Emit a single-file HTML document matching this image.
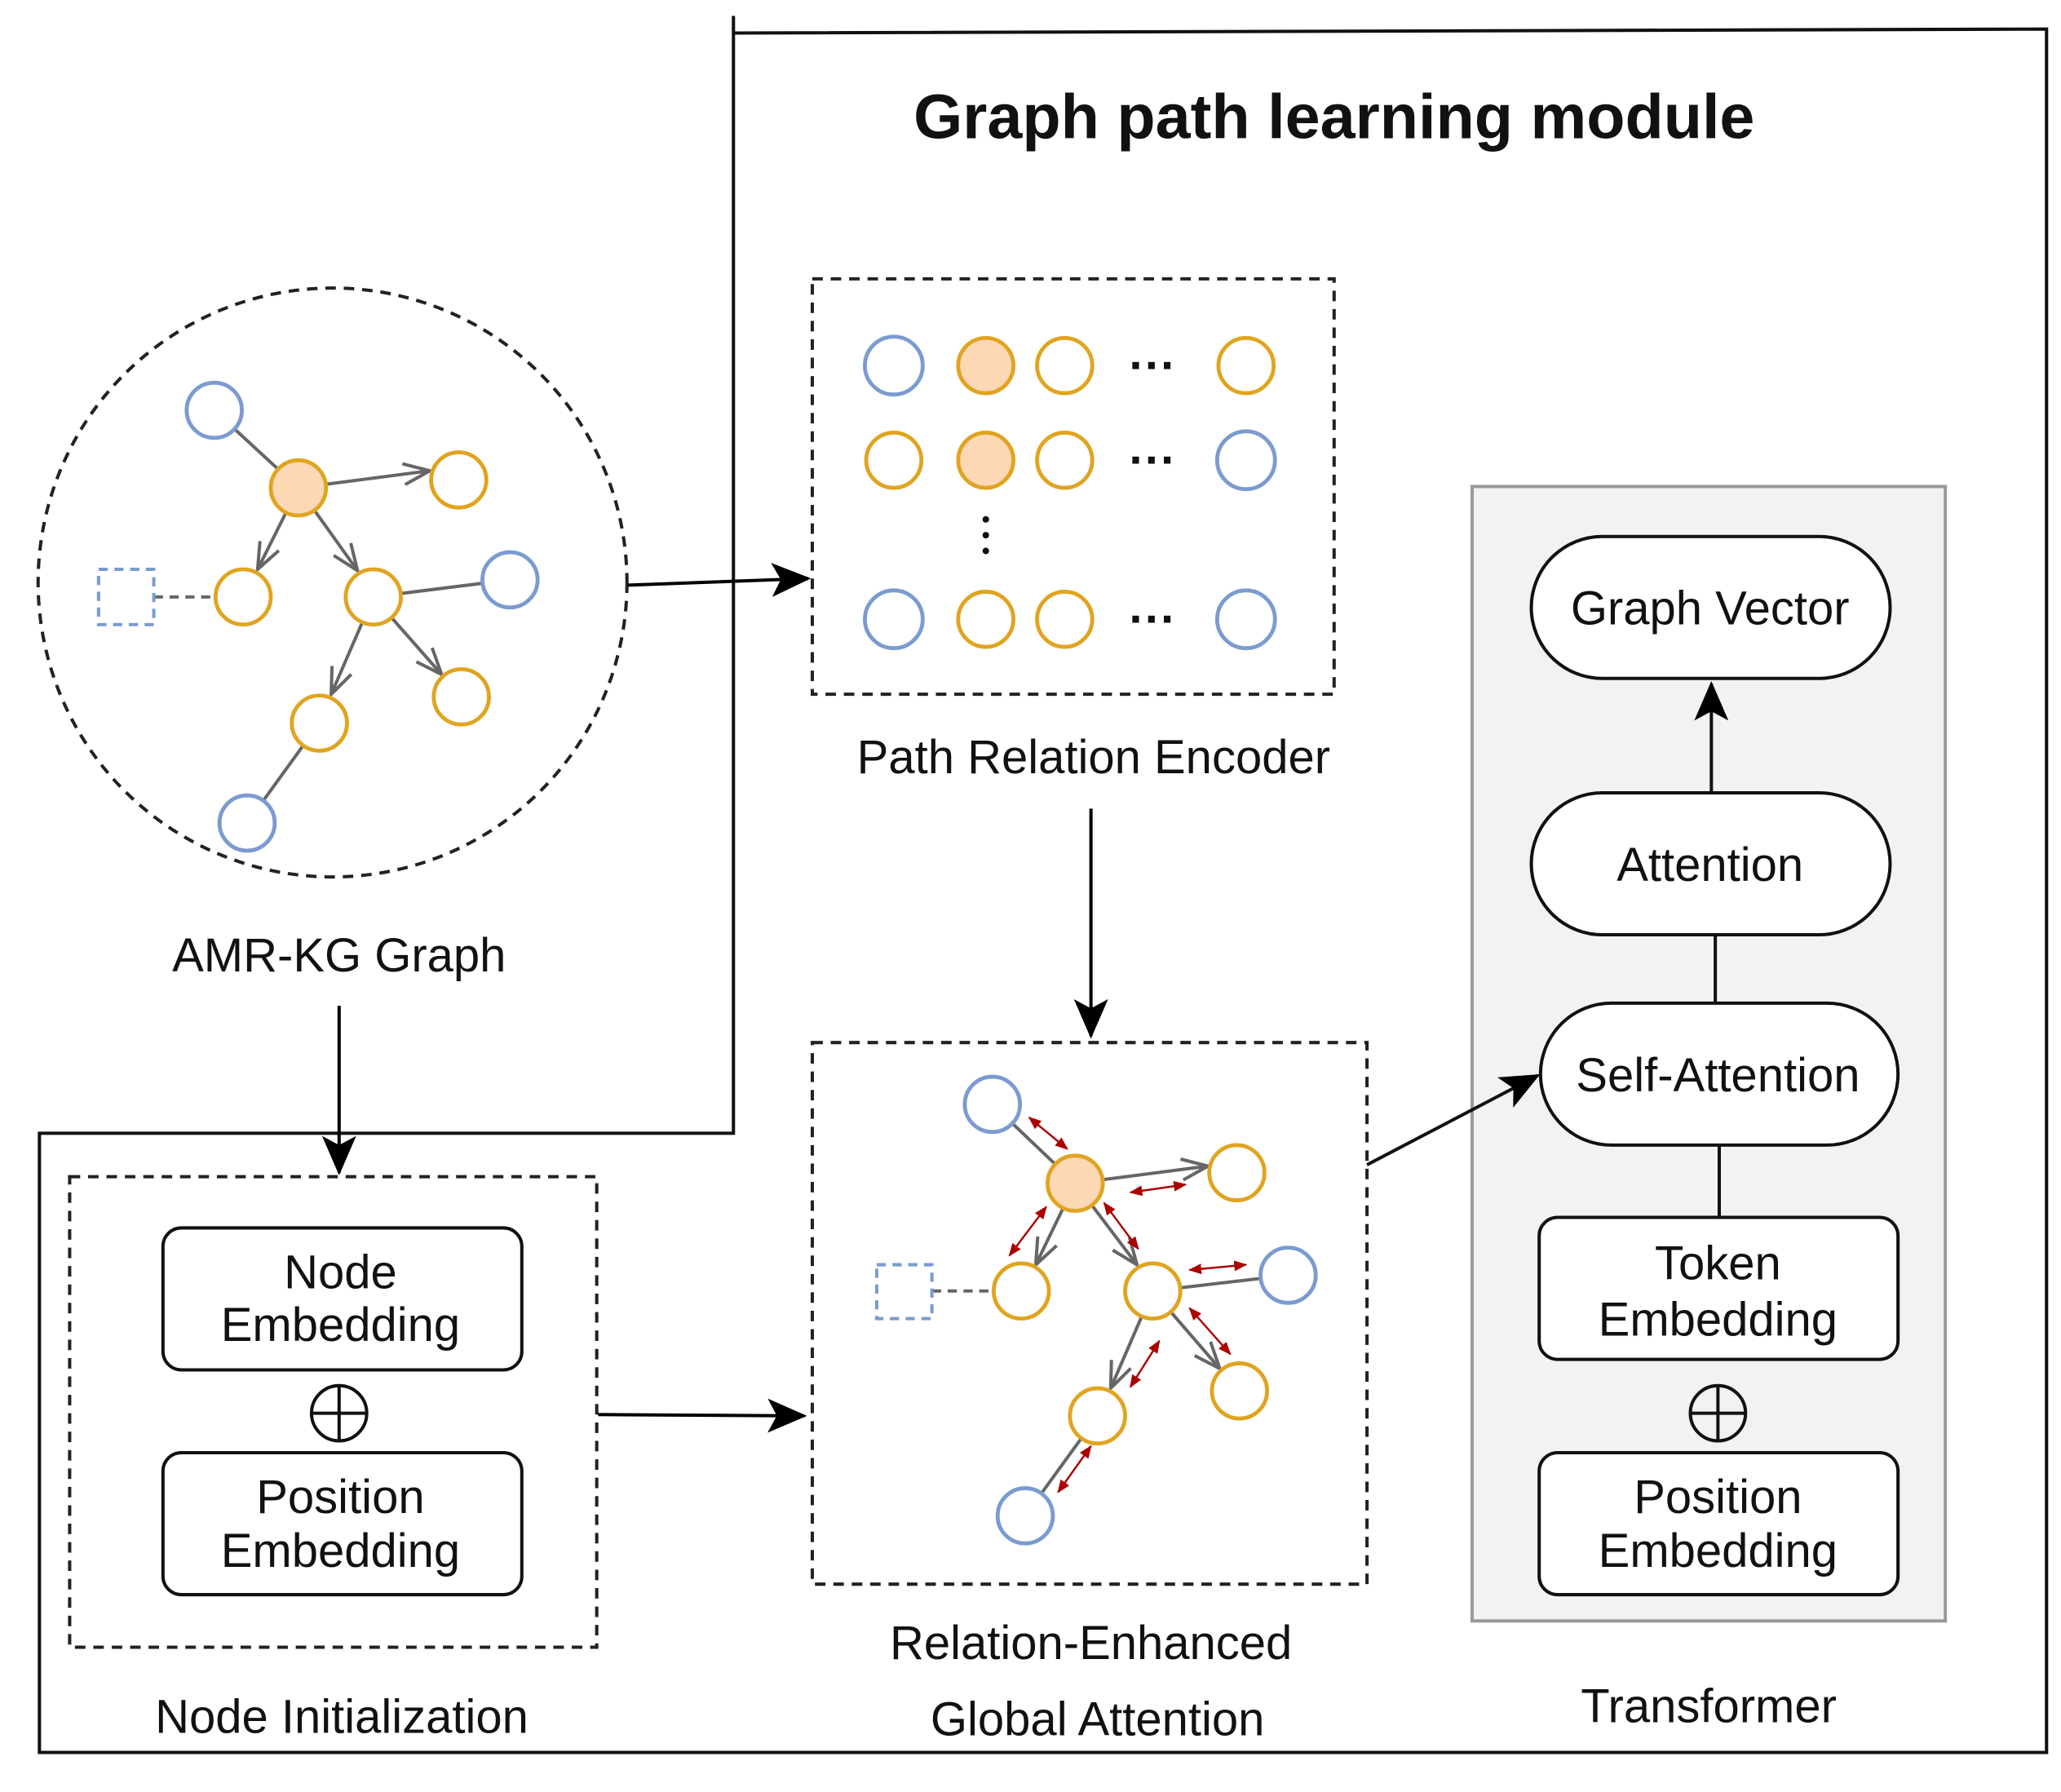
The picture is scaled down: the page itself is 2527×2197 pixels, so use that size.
<!DOCTYPE html>
<html><head><meta charset="utf-8"><style>
html,body{margin:0;padding:0;background:#fff;}
svg{display:block;}
text{font-family:"Liberation Sans",Arial,sans-serif;fill:#111;}
</style></head><body>
<svg width="2527" height="2197" viewBox="0 0 1568 1363" xmlns="http://www.w3.org/2000/svg">
<defs>
<marker id="big" markerWidth="30" markerHeight="26" refX="28" refY="13" orient="auto" markerUnits="userSpaceOnUse"><path d="M0,0 L30,13 L0,26 L7,13 z" fill="#000"/></marker>
<marker id="ga" markerWidth="24" markerHeight="20" refX="22" refY="10" orient="auto" markerUnits="userSpaceOnUse"><path d="M2,2 L22,10 L2,18" fill="none" stroke="#666" stroke-width="2.5"/></marker>
<marker id="ra" markerWidth="10" markerHeight="8" refX="9" refY="4" orient="auto-start-reverse" markerUnits="userSpaceOnUse"><path d="M0,0 L10,4 L0,8 z" fill="#a00"/></marker>
</defs>
<g stroke="#111" stroke-width="2.5" fill="none">
<polyline points="558,12 558,862 30,862 30,1333 1557,1333 1557,22 558,25"/>
</g>
<text x="1015" y="105" font-size="48" font-weight="bold" text-anchor="middle">Graph path learning module</text>

<circle cx="253" cy="443" r="224" fill="none" stroke="#222" stroke-width="2.5" stroke-dasharray="8,6"/>
<g stroke="#666" stroke-width="2.5">
<line x1="163" y1="312" x2="227" y2="371"/>
<line x1="227" y1="371" x2="327" y2="358" marker-end="url(#ga)"/>
<line x1="227" y1="371" x2="196" y2="433" marker-end="url(#ga)"/>
<line x1="227" y1="371" x2="272" y2="434" marker-end="url(#ga)"/>
<line x1="284" y1="454" x2="388" y2="441"/>
<line x1="284" y1="454" x2="336" y2="513" marker-end="url(#ga)"/>
<line x1="284" y1="454" x2="252" y2="528" marker-end="url(#ga)"/>
<line x1="243" y1="550" x2="188" y2="626"/>
<line x1="117" y1="454" x2="163" y2="454" stroke-dasharray="7,5"/>
</g>
<rect x="75" y="433" width="42" height="42" fill="none" stroke="#7b9bd0" stroke-width="2.5" stroke-dasharray="7,5"/>
<g stroke-width="3">
<circle cx="163" cy="312" r="21" fill="#fff" stroke="#7b9bd0"/>
<circle cx="227" cy="371" r="21" fill="#fdd8b5" stroke="#e0a420"/>
<circle cx="349" cy="365" r="21" fill="#fff" stroke="#e0a420"/>
<circle cx="185" cy="454" r="21" fill="#fff" stroke="#e0a420"/>
<circle cx="284" cy="454" r="21" fill="#fff" stroke="#e0a420"/>
<circle cx="388" cy="441" r="21" fill="#fff" stroke="#7b9bd0"/>
<circle cx="351" cy="530" r="21" fill="#fff" stroke="#e0a420"/>
<circle cx="243" cy="550" r="21" fill="#fff" stroke="#e0a420"/>
<circle cx="188" cy="626" r="21" fill="#fff" stroke="#7b9bd0"/>
</g>
<text x="258" y="739" font-size="36" text-anchor="middle">AMR-KG Graph</text>

<g stroke="#000" stroke-width="2.5" fill="none">
<line x1="478" y1="445" x2="615" y2="440" marker-end="url(#big)"/>
<line x1="830" y1="615" x2="830" y2="788" marker-end="url(#big)"/>
<line x1="258" y1="765" x2="258" y2="892" marker-end="url(#big)"/>
<line x1="455" y1="1076" x2="612" y2="1077" marker-end="url(#big)"/>
</g>

<rect x="618" y="212" width="397" height="316" fill="none" stroke="#222" stroke-width="2.5" stroke-dasharray="8,6"/>
<g stroke-width="3" fill="#fff">
<circle cx="680" cy="278" r="22" stroke="#7b9bd0"/>
<circle cx="750" cy="278" r="21" fill="#fdd8b5" stroke="#e0a420"/>
<circle cx="810" cy="278" r="21" stroke="#e0a420"/>
<circle cx="948" cy="278" r="21" stroke="#e0a420"/>
<circle cx="680" cy="350" r="21" stroke="#e0a420"/>
<circle cx="750" cy="350" r="21" fill="#fdd8b5" stroke="#e0a420"/>
<circle cx="810" cy="350" r="21" stroke="#e0a420"/>
<circle cx="948" cy="350" r="22" stroke="#7b9bd0"/>
<circle cx="680" cy="471" r="22" stroke="#7b9bd0"/>
<circle cx="750" cy="471" r="21" stroke="#e0a420"/>
<circle cx="810" cy="471" r="21" stroke="#e0a420"/>
<circle cx="948" cy="471" r="22" stroke="#7b9bd0"/>
</g>
<g fill="#111">
<text x="877" y="290" font-size="36" font-weight="bold" text-anchor="middle">···</text>
<text x="877" y="362" font-size="36" font-weight="bold" text-anchor="middle">···</text>
<text x="877" y="483" font-size="36" font-weight="bold" text-anchor="middle">···</text>
<circle cx="750" cy="395" r="2.5"/><circle cx="750" cy="407" r="2.5"/><circle cx="750" cy="419" r="2.5"/>
</g>
<text x="832" y="588" font-size="36" text-anchor="middle">Path Relation Encoder</text>

<rect x="618" y="793" width="422" height="412" fill="none" stroke="#222" stroke-width="2.5" stroke-dasharray="8,6"/>
<g stroke="#666" stroke-width="2.5">
<line x1="755" y1="840" x2="818" y2="900"/>
<line x1="818" y1="900" x2="919" y2="887" marker-end="url(#ga)"/>
<line x1="818" y1="900" x2="788" y2="962" marker-end="url(#ga)"/>
<line x1="818" y1="900" x2="865" y2="962" marker-end="url(#ga)"/>
<line x1="877" y1="982" x2="980" y2="970"/>
<line x1="877" y1="982" x2="928" y2="1041" marker-end="url(#ga)"/>
<line x1="877" y1="982" x2="845" y2="1056" marker-end="url(#ga)"/>
<line x1="835" y1="1077" x2="780" y2="1153"/>
<line x1="709" y1="982" x2="755" y2="982" stroke-dasharray="7,5"/>
</g>
<g stroke="#a00" stroke-width="1.5" marker-start="url(#ra)" marker-end="url(#ra)">
<line x1="783" y1="850" x2="812" y2="874"/>
<line x1="860" y1="907" x2="902" y2="901"/>
<line x1="768" y1="955" x2="796" y2="918"/>
<line x1="840" y1="915" x2="866" y2="950"/>
<line x1="905" y1="966" x2="948" y2="962"/>
<line x1="905" y1="995" x2="936" y2="1030"/>
<line x1="860" y1="1055" x2="882" y2="1020"/>
<line x1="805" y1="1135" x2="830" y2="1100"/>
</g>
<rect x="667" y="962" width="42" height="41" fill="none" stroke="#7b9bd0" stroke-width="2.5" stroke-dasharray="7,5"/>
<g stroke-width="3">
<circle cx="755" cy="840" r="21" fill="#fff" stroke="#7b9bd0"/>
<circle cx="818" cy="900" r="21" fill="#fdd8b5" stroke="#e0a420"/>
<circle cx="941" cy="892" r="21" fill="#fff" stroke="#e0a420"/>
<circle cx="777" cy="982" r="21" fill="#fff" stroke="#e0a420"/>
<circle cx="877" cy="982" r="21" fill="#fff" stroke="#e0a420"/>
<circle cx="980" cy="970" r="21" fill="#fff" stroke="#7b9bd0"/>
<circle cx="943" cy="1058" r="21" fill="#fff" stroke="#e0a420"/>
<circle cx="835" cy="1077" r="21" fill="#fff" stroke="#e0a420"/>
<circle cx="780" cy="1153" r="21" fill="#fff" stroke="#7b9bd0"/>
</g>
<text x="830" y="1262" font-size="36" text-anchor="middle">Relation-Enhanced</text>
<text x="835" y="1320" font-size="36" text-anchor="middle">Global Attention</text>

<rect x="53" y="895" width="401" height="358" fill="none" stroke="#222" stroke-width="2.5" stroke-dasharray="8,6"/>
<rect x="124" y="934" width="273" height="108" rx="14" fill="#fff" stroke="#111" stroke-width="2.5"/>
<text x="259" y="980" font-size="36" text-anchor="middle">Node</text>
<text x="259" y="1020" font-size="36" text-anchor="middle">Embedding</text>
<circle cx="258" cy="1075" r="21" fill="none" stroke="#111" stroke-width="2.5"/>
<line x1="237" y1="1075" x2="279" y2="1075" stroke="#111" stroke-width="2.5"/>
<line x1="258" y1="1054" x2="258" y2="1096" stroke="#111" stroke-width="2.5"/>
<rect x="124" y="1105" width="273" height="108" rx="14" fill="#fff" stroke="#111" stroke-width="2.5"/>
<text x="259" y="1151" font-size="36" text-anchor="middle">Position</text>
<text x="259" y="1192" font-size="36" text-anchor="middle">Embedding</text>
<text x="260" y="1318" font-size="36" text-anchor="middle">Node Initialization</text>

<rect x="1120" y="370" width="360" height="863" fill="#f2f2f2" stroke="#999" stroke-width="2.5"/>
<g stroke="#111" stroke-width="2.5">
<line x1="1302" y1="603" x2="1302" y2="520" marker-end="url(#big)"/>
<line x1="1305" y1="711" x2="1305" y2="763"/>
<line x1="1308" y1="871" x2="1308" y2="926"/>
<line x1="1040" y1="886" x2="1170" y2="818" marker-end="url(#big)"/>
</g>
<g fill="#fff" stroke="#111" stroke-width="2.5">
<rect x="1165" y="408" width="273" height="108" rx="54"/>
<rect x="1165" y="603" width="273" height="108" rx="54"/>
<rect x="1172" y="763" width="272" height="108" rx="54"/>
<rect x="1171" y="926" width="273" height="108" rx="14"/>
<rect x="1171" y="1105" width="273" height="108" rx="14"/>
</g>
<text x="1301" y="475" font-size="36" text-anchor="middle">Graph Vector</text>
<text x="1301" y="670" font-size="36" text-anchor="middle">Attention</text>
<text x="1307" y="830" font-size="36" text-anchor="middle">Self-Attention</text>
<text x="1307" y="973" font-size="36" text-anchor="middle">Token</text>
<text x="1307" y="1016" font-size="36" text-anchor="middle">Embedding</text>
<circle cx="1307" cy="1075" r="21" fill="none" stroke="#111" stroke-width="2.5"/>
<line x1="1286" y1="1075" x2="1328" y2="1075" stroke="#111" stroke-width="2.5"/>
<line x1="1307" y1="1054" x2="1307" y2="1096" stroke="#111" stroke-width="2.5"/>
<text x="1307" y="1151" font-size="36" text-anchor="middle">Position</text>
<text x="1307" y="1192" font-size="36" text-anchor="middle">Embedding</text>
<text x="1300" y="1310" font-size="36" text-anchor="middle">Transformer</text>
</svg>
</body></html>
